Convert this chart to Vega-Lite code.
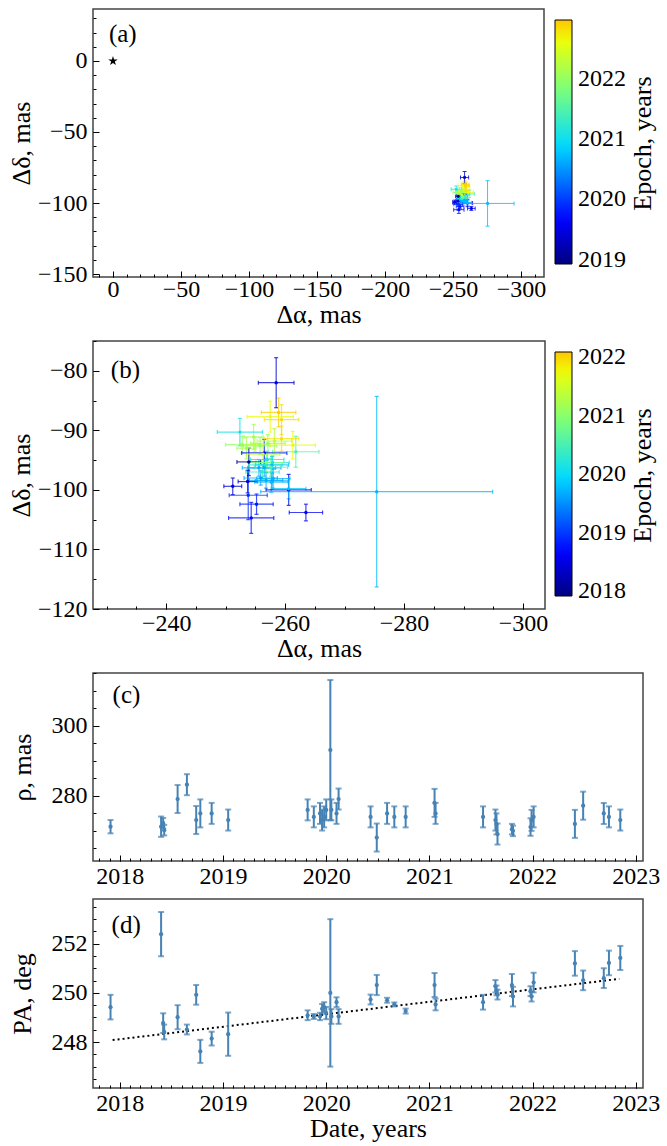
{
"$schema":"https://vega.github.io/schema/vega-lite/v6.json",
"padding":{"left":7,"top":8,"right":5,"bottom":5},
"background":"white",
"config":{
  "font":"Liberation Serif",
  "view":{"stroke":"#444","strokeWidth":1.5},
  "axis":{"domain":false,"grid":false,"labelFont":"Liberation Serif","titleFont":"Liberation Serif","labelFontSize":24,"titleFontSize":26,"titleFontWeight":"normal","labelColor":"#000","titleColor":"#000","tickColor":"#000","tickWidth":1,"labelFlush":false,"labelOverlap":false},
  "legend":{"labelFont":"Liberation Serif","titleFont":"Liberation Serif"}
},
"datasets":{"obs":[
{"t":2017.91,"rho":271.2,"rho_e":1.9,"pa":249.42,"pa_e":0.5,"da":-253.9,"da_e":2.0,"dd":-95.3,"dd_e":2.3},
{"t":2018.40,"rho":271.2,"rho_e":2.9,"pa":252.39,"pa_e":0.9,"da":-258.5,"da_e":3.0,"dd":-82.0,"dd_e":4.2},
{"t":2018.42,"rho":272.2,"rho_e":1.5,"pa":248.77,"pa_e":0.4,"da":-253.7,"da_e":1.6,"dd":-98.6,"dd_e":1.9},
{"t":2018.43,"rho":270.2,"rho_e":1.5,"pa":248.41,"pa_e":0.3,"da":-251.2,"da_e":1.5,"dd":-99.4,"dd_e":1.4},
{"t":2018.56,"rho":279.1,"rho_e":4.0,"pa":249.01,"pa_e":0.49,"da":-260.6,"da_e":3.8,"dd":-100.0,"dd_e":2.6},
{"t":2018.65,"rho":283.2,"rho_e":3.0,"pa":248.51,"pa_e":0.2,"da":-263.5,"da_e":2.8,"dd":-103.8,"dd_e":1.4},
{"t":2018.74,"rho":273.1,"rho_e":4.0,"pa":249.92,"pa_e":0.4,"da":-256.5,"da_e":3.8,"dd":-93.8,"dd_e":2.3},
{"t":2018.78,"rho":275.0,"rho_e":4.0,"pa":247.62,"pa_e":0.47,"da":-254.3,"da_e":3.8,"dd":-104.7,"dd_e":2.6},
{"t":2018.89,"rho":275.0,"rho_e":3.0,"pa":248.14,"pa_e":0.28,"da":-255.2,"da_e":2.8,"dd":-102.4,"dd_e":1.7},
{"t":2019.05,"rho":273.1,"rho_e":3.0,"pa":248.32,"pa_e":0.88,"da":-253.8,"da_e":3.2,"dd":-100.9,"dd_e":4.1},
{"t":2019.82,"rho":276.0,"rho_e":3.0,"pa":249.09,"pa_e":0.2,"da":-257.8,"da_e":2.8,"dd":-98.5,"dd_e":1.4},
{"t":2019.88,"rho":274.0,"rho_e":3.0,"pa":249.04,"pa_e":0.1,"da":-255.9,"da_e":2.8,"dd":-98.0,"dd_e":1.2},
{"t":2019.94,"rho":275.0,"rho_e":3.0,"pa":249.04,"pa_e":0.15,"da":-256.8,"da_e":2.8,"dd":-98.4,"dd_e":1.3},
{"t":2019.96,"rho":273.1,"rho_e":3.0,"pa":249.35,"pa_e":0.2,"da":-255.6,"da_e":2.8,"dd":-96.3,"dd_e":1.4},
{"t":2019.98,"rho":274.0,"rho_e":3.0,"pa":249.42,"pa_e":0.2,"da":-256.5,"da_e":2.8,"dd":-96.3,"dd_e":1.4},
{"t":2020.00,"rho":276.0,"rho_e":3.0,"pa":249.18,"pa_e":0.25,"da":-258.0,"da_e":2.8,"dd":-98.1,"dd_e":1.6},
{"t":2020.04,"rho":293.1,"rho_e":20.0,"pa":250.0,"pa_e":3.0,"da":-275.4,"da_e":19.5,"dd":-100.3,"dd_e":16.0},
{"t":2020.05,"rho":276.0,"rho_e":3.0,"pa":249.04,"pa_e":0.3,"da":-257.7,"da_e":2.8,"dd":-98.7,"dd_e":1.7},
{"t":2020.10,"rho":275.0,"rho_e":3.0,"pa":249.62,"pa_e":0.2,"da":-257.8,"da_e":2.8,"dd":-95.8,"dd_e":1.4},
{"t":2020.12,"rho":279.1,"rho_e":3.0,"pa":249.04,"pa_e":0.3,"da":-260.6,"da_e":2.9,"dd":-99.8,"dd_e":1.7},
{"t":2020.43,"rho":274.0,"rho_e":3.0,"pa":249.73,"pa_e":0.2,"da":-257.0,"da_e":2.8,"dd":-94.9,"dd_e":1.4},
{"t":2020.49,"rho":268.1,"rho_e":4.0,"pa":250.32,"pa_e":0.41,"da":-252.4,"da_e":3.8,"dd":-90.3,"dd_e":2.3},
{"t":2020.59,"rho":275.0,"rho_e":3.0,"pa":249.70,"pa_e":0.1,"da":-257.9,"da_e":2.8,"dd":-95.4,"dd_e":1.1},
{"t":2020.66,"rho":274.0,"rho_e":3.0,"pa":249.53,"pa_e":0.08,"da":-256.7,"da_e":2.8,"dd":-95.8,"dd_e":1.1},
{"t":2020.77,"rho":274.0,"rho_e":3.0,"pa":249.26,"pa_e":0.1,"da":-256.2,"da_e":2.8,"dd":-97.0,"dd_e":1.2},
{"t":2021.05,"rho":278.0,"rho_e":4.0,"pa":250.32,"pa_e":0.49,"da":-261.8,"da_e":3.9,"dd":-93.6,"dd_e":2.6},
{"t":2021.06,"rho":275.0,"rho_e":3.0,"pa":249.53,"pa_e":0.24,"da":-257.6,"da_e":2.8,"dd":-96.2,"dd_e":1.5},
{"t":2021.52,"rho":274.0,"rho_e":3.0,"pa":249.62,"pa_e":0.3,"da":-256.9,"da_e":2.9,"dd":-95.4,"dd_e":1.7},
{"t":2021.64,"rho":273.1,"rho_e":3.0,"pa":250.27,"pa_e":0.25,"da":-257.1,"da_e":2.9,"dd":-92.2,"dd_e":1.5},
{"t":2021.65,"rho":272.0,"rho_e":3.0,"pa":250.10,"pa_e":0.2,"da":-255.8,"da_e":2.8,"dd":-92.6,"dd_e":1.4},
{"t":2021.66,"rho":269.1,"rho_e":3.0,"pa":249.93,"pa_e":0.2,"da":-252.8,"da_e":2.8,"dd":-92.4,"dd_e":1.4},
{"t":2021.80,"rho":270.5,"rho_e":1.5,"pa":250.32,"pa_e":0.45,"da":-254.7,"da_e":1.6,"dd":-91.1,"dd_e":2.1},
{"t":2021.81,"rho":270.0,"rho_e":1.5,"pa":249.85,"pa_e":0.4,"da":-253.5,"da_e":1.6,"dd":-93.0,"dd_e":1.8},
{"t":2021.98,"rho":271.1,"rho_e":2.5,"pa":250.07,"pa_e":0.2,"da":-254.9,"da_e":2.4,"dd":-92.4,"dd_e":1.2},
{"t":2021.99,"rho":273.0,"rho_e":3.0,"pa":249.85,"pa_e":0.2,"da":-256.3,"da_e":2.8,"dd":-94.0,"dd_e":1.4},
{"t":2022.01,"rho":274.0,"rho_e":3.0,"pa":250.42,"pa_e":0.4,"da":-258.2,"da_e":2.9,"dd":-91.8,"dd_e":2.1},
{"t":2022.41,"rho":272.0,"rho_e":4.0,"pa":251.20,"pa_e":0.5,"da":-257.5,"da_e":3.9,"dd":-87.7,"dd_e":2.6},
{"t":2022.49,"rho":277.2,"rho_e":4.0,"pa":250.51,"pa_e":0.4,"da":-261.3,"da_e":3.8,"dd":-92.5,"dd_e":2.3},
{"t":2022.69,"rho":275.0,"rho_e":3.0,"pa":250.60,"pa_e":0.4,"da":-259.4,"da_e":2.9,"dd":-91.4,"dd_e":2.1},
{"t":2022.74,"rho":274.0,"rho_e":3.0,"pa":251.22,"pa_e":0.5,"da":-259.4,"da_e":2.9,"dd":-88.2,"dd_e":2.5},
{"t":2022.85,"rho":273.1,"rho_e":3.0,"pa":251.42,"pa_e":0.49,"da":-258.9,"da_e":2.9,"dd":-87.0,"dd_e":2.4}
]},
"spacing":9,
"vconcat":[
 {"vconcat":[
  {"width":451,"height":268,
   "resolve":{"axis":{"x":"independent","y":"independent"},"scale":{"color":"independent"},"legend":{"color":"independent"}},
   "layer":[
    {"data":{"name":"obs"},"mark":{"type":"errorbar","thickness":1,"size":4,"ticks":true,"opacity":0.8},
     "encoding":{
      "x":{"field":"da","type":"quantitative","scale":{"domain":[14.7,-316.9],"nice":false,"zero":false},"axis":null},
      "y":{"field":"dd","type":"quantitative","scale":{"domain":[-152.1,36.6],"nice":false,"zero":false},"axis":null},
      "yError":{"field":"dd_e"},
      "color":{"field":"t","type":"quantitative","scale":{"type":"linear","domain":[2017.8,2018.713,2020.279,2021.441,2022.461,2022.9],"range":["#000080","#0000ff","#00dbff","#7bff7b","#eeff08","#ffc600"],"interpolate":"rgb","clamp":true},"legend":null}}},
    {"data":{"name":"obs"},"mark":{"type":"errorbar","thickness":1,"size":4,"ticks":true,"opacity":0.8},
     "encoding":{
      "x":{"field":"da","type":"quantitative","scale":{"domain":[14.7,-316.9],"nice":false,"zero":false},"axis":null},
      "xError":{"field":"da_e"},
      "y":{"field":"dd","type":"quantitative","scale":{"domain":[-152.1,36.6],"nice":false,"zero":false},"axis":null},
      "color":{"field":"t","type":"quantitative","scale":{"type":"linear","domain":[2017.8,2018.713,2020.279,2021.441,2022.461,2022.9],"range":["#000080","#0000ff","#00dbff","#7bff7b","#eeff08","#ffc600"],"interpolate":"rgb","clamp":true},"legend":null}}},
    {"data":{"name":"obs"},"mark":{"type":"point","filled":true,"size":10,"opacity":1},
     "encoding":{
      "x":{"field":"da","type":"quantitative","scale":{"domain":[14.7,-316.9],"nice":false,"zero":false},
       "axis":{"orient":"bottom","values":[0,-50,-100,-150,-200,-250,-300],"format":"d","title":"Δα, mas","tickSize":-6,"labelPadding":6,"titlePadding":0}},
      "y":{"field":"dd","type":"quantitative","scale":{"domain":[-152.1,36.6],"nice":false,"zero":false},
       "axis":{"orient":"left","values":[0,-50,-100,-150],"format":"d","title":"Δδ, mas","tickSize":-6,"labelPadding":12,"titlePadding":3}},
      "color":{"field":"t","type":"quantitative","scale":{"type":"linear","domain":[2017.8,2018.713,2020.279,2021.441,2022.461,2022.9],"range":["#000080","#0000ff","#00dbff","#7bff7b","#eeff08","#ffc600"],"interpolate":"rgb","clamp":true},"legend":null}}},
    {"data":{"name":"obs"},"mark":{"type":"point","filled":true,"size":0,"opacity":1},
     "encoding":{
      "x":{"field":"da","type":"quantitative","scale":{"domain":[14.7,-316.9],"nice":false,"zero":false},"axis":null},
      "y":{"field":"dd","type":"quantitative","scale":{"domain":[-152.1,36.6],"nice":false,"zero":false},"axis":null},
      "color":{"field":"t","type":"quantitative","scale":{"type":"linear","domain":[2018.93,2019.653,2020.893,2021.815,2022.623,2022.97],"range":["#000080","#0000ff","#00dbff","#7bff7b","#eeff08","#ffc600"],"interpolate":"rgb","clamp":true},
       "legend":{"type":"gradient","orient":"none","legendX":462,"legendY":11,"padding":0,"direction":"vertical","gradientLength":244,"gradientThickness":17,"gradientStrokeColor":"#000","gradientStrokeWidth":1,"labelFontSize":24,"labelOffset":6,"labelColor":"#000","labelOverlap":false,"values":[2019,2020,2021,2022],"format":"d","title":null}}}},
    {"data":{"values":[{"da":0,"dd":0}]},"mark":{"type":"point","filled":true,"color":"#000","opacity":1,"size":100,"shape":"M0,-1L0.2245,-0.309L0.951,-0.309L0.363,0.118L0.588,0.809L0,0.382L-0.588,0.809L-0.363,0.118L-0.951,-0.309L-0.2245,-0.309Z"},
     "encoding":{
      "x":{"field":"da","type":"quantitative","scale":{"domain":[14.7,-316.9],"nice":false,"zero":false},"axis":null},
      "y":{"field":"dd","type":"quantitative","scale":{"domain":[-152.1,36.6],"nice":false,"zero":false},"axis":null}}},
    {"data":{"values":[{"da":3,"dd":19,"label":"(a)"}]},"mark":{"type":"text","font":"Liberation Serif","fontSize":25,"align":"left","baseline":"middle","color":"#000"},
     "encoding":{
      "x":{"field":"da","type":"quantitative","scale":{"domain":[14.7,-316.9],"nice":false,"zero":false},"axis":null},
      "y":{"field":"dd","type":"quantitative","scale":{"domain":[-152.1,36.6],"nice":false,"zero":false},"axis":null},
      "text":{"field":"label"}}},
    {"data":{"name":"obs"},"mark":{"type":"point","opacity":0},
     "encoding":{
      "x":{"field":"da","type":"quantitative","scale":{"domain":[14.7,-316.9],"nice":false,"zero":false},
       "axis":{"orient":"bottom","values":[10,0,-10,-20,-30,-40,-50,-60,-70,-80,-90,-100,-110,-120,-130,-140,-150,-160,-170,-180,-190,-200,-210,-220,-230,-240,-250,-260,-270,-280,-290,-300,-310],"labels":false,"tickSize":-3,"title":null}},
      "y":{"field":"dd","type":"quantitative","scale":{"domain":[-152.1,36.6],"nice":false,"zero":false},
       "axis":{"orient":"left","values":[30,20,10,0,-10,-20,-30,-40,-50,-60,-70,-80,-90,-100,-110,-120,-130,-140,-150],"labels":false,"tickSize":-3,"title":null}}}},
    {"data":{"name":"obs"},"mark":{"type":"point","opacity":0},
     "encoding":{
      "x":{"field":"da","type":"quantitative","scale":{"domain":[14.7,-316.9],"nice":false,"zero":false},"axis":null},
      "y":{"field":"dd","type":"quantitative","scale":{"domain":[-152.1,36.6],"nice":false,"zero":false},
       "axis":{"orient":"right","ticks":false,"labels":false,"domain":false,"grid":false,"title":"Epoch, years","titleAngle":270,"titleBaseline":"top","titlePadding":85}}}}
   ]},
  {"width":452,"height":268,
   "resolve":{"axis":{"x":"independent","y":"independent"},"scale":{"color":"independent"},"legend":{"color":"independent"}},
   "layer":[
    {"data":{"name":"obs"},"mark":{"type":"errorbar","thickness":1.2,"size":4,"ticks":true,"opacity":0.75},
     "encoding":{
      "x":{"field":"da","type":"quantitative","scale":{"domain":[-227.7,-303.7],"nice":false,"zero":false},"axis":null},
      "y":{"field":"dd","type":"quantitative","scale":{"domain":[-120,-75],"nice":false,"zero":false},"axis":null},
      "yError":{"field":"dd_e"},
      "color":{"field":"t","type":"quantitative","scale":{"type":"linear","domain":[2017.8,2018.713,2020.279,2021.441,2022.461,2022.9],"range":["#000080","#0000ff","#00dbff","#7bff7b","#eeff08","#ffc600"],"interpolate":"rgb","clamp":true},"legend":null}}},
    {"data":{"name":"obs"},"mark":{"type":"errorbar","thickness":1.2,"size":4,"ticks":true,"opacity":0.75},
     "encoding":{
      "x":{"field":"da","type":"quantitative","scale":{"domain":[-227.7,-303.7],"nice":false,"zero":false},"axis":null},
      "xError":{"field":"da_e"},
      "y":{"field":"dd","type":"quantitative","scale":{"domain":[-120,-75],"nice":false,"zero":false},"axis":null},
      "color":{"field":"t","type":"quantitative","scale":{"type":"linear","domain":[2017.8,2018.713,2020.279,2021.441,2022.461,2022.9],"range":["#000080","#0000ff","#00dbff","#7bff7b","#eeff08","#ffc600"],"interpolate":"rgb","clamp":true},"legend":null}}},
    {"data":{"name":"obs"},"mark":{"type":"point","filled":true,"size":12,"opacity":1},
     "encoding":{
      "x":{"field":"da","type":"quantitative","scale":{"domain":[-227.7,-303.7],"nice":false,"zero":false},
       "axis":{"orient":"bottom","values":[-240,-260,-280,-300],"format":"d","title":"Δα, mas","tickSize":-6,"labelPadding":8,"titlePadding":0}},
      "y":{"field":"dd","type":"quantitative","scale":{"domain":[-120,-75],"nice":false,"zero":false},
       "axis":{"orient":"left","values":[-80,-90,-100,-110,-120],"format":"d","title":"Δδ, mas","tickSize":-6,"labelPadding":12,"titlePadding":3}},
      "color":{"field":"t","type":"quantitative","scale":{"type":"linear","domain":[2017.8,2018.713,2020.279,2021.441,2022.461,2022.9],"range":["#000080","#0000ff","#00dbff","#7bff7b","#eeff08","#ffc600"],"interpolate":"rgb","clamp":true},"legend":null}}},
    {"data":{"name":"obs"},"mark":{"type":"point","filled":true,"size":0,"opacity":1},
     "encoding":{
      "x":{"field":"da","type":"quantitative","scale":{"domain":[-227.7,-303.7],"nice":false,"zero":false},"axis":null},
      "y":{"field":"dd","type":"quantitative","scale":{"domain":[-120,-75],"nice":false,"zero":false},"axis":null},
      "color":{"field":"t","type":"quantitative","scale":{"type":"linear","domain":[2017.92,2018.666,2019.947,2020.897,2021.731,2022.09],"range":["#000080","#0000ff","#00dbff","#7bff7b","#eeff08","#ffc600"],"interpolate":"rgb","clamp":true},
       "legend":{"type":"gradient","orient":"none","legendX":462,"legendY":11,"padding":0,"direction":"vertical","gradientLength":244,"gradientThickness":17,"gradientStrokeColor":"#000","gradientStrokeWidth":1,"labelFontSize":24,"labelOffset":6,"labelColor":"#000","labelOverlap":false,"values":[2018,2019,2020,2021,2022],"format":"d","title":null}}}},
    {"data":{"values":[{"da":-230.7,"dd":-79.8,"label":"(b)"}]},"mark":{"type":"text","font":"Liberation Serif","fontSize":25,"align":"left","baseline":"middle","color":"#000"},
     "encoding":{
      "x":{"field":"da","type":"quantitative","scale":{"domain":[-227.7,-303.7],"nice":false,"zero":false},"axis":null},
      "y":{"field":"dd","type":"quantitative","scale":{"domain":[-120,-75],"nice":false,"zero":false},"axis":null},
      "text":{"field":"label"}}},
    {"data":{"name":"obs"},"mark":{"type":"point","opacity":0},
     "encoding":{
      "x":{"field":"da","type":"quantitative","scale":{"domain":[-227.7,-303.7],"nice":false,"zero":false},
       "axis":{"orient":"bottom","values":[-230,-235,-240,-245,-250,-255,-260,-265,-270,-275,-280,-285,-290,-295,-300],"labels":false,"tickSize":-3,"title":null}},
      "y":{"field":"dd","type":"quantitative","scale":{"domain":[-120,-75],"nice":false,"zero":false},
       "axis":{"orient":"left","values":[-75,-80,-85,-90,-95,-100,-105,-110,-115,-120],"labels":false,"tickSize":-3,"title":null}}}},
    {"data":{"name":"obs"},"mark":{"type":"point","opacity":0},
     "encoding":{
      "x":{"field":"da","type":"quantitative","scale":{"domain":[-227.7,-303.7],"nice":false,"zero":false},"axis":null},
      "y":{"field":"dd","type":"quantitative","scale":{"domain":[-120,-75],"nice":false,"zero":false},
       "axis":{"orient":"right","ticks":false,"labels":false,"domain":false,"grid":false,"title":"Epoch, years","titleAngle":270,"titleBaseline":"top","titlePadding":84}}}}
   ]}
  ],"spacing":64,"bounds":"flush","resolve":{"scale":{"color":"independent"},"legend":{"color":"independent"}}},
 {"vconcat":[
  {"width":550,"height":188,
   "resolve":{"axis":{"x":"independent","y":"independent"}},
   "layer":[
    {"data":{"name":"obs"},"mark":{"type":"errorbar","thickness":2,"size":6,"ticks":true,"color":"#4682b4"},
     "encoding":{
      "x":{"field":"t","type":"quantitative","scale":{"domain":[2017.74,2023.07],"nice":false,"zero":false},"axis":null},
      "y":{"field":"rho","type":"quantitative","scale":{"domain":[261.4,315.1],"nice":false,"zero":false},"axis":null},
      "yError":{"field":"rho_e"}}},
    {"data":{"name":"obs"},"mark":{"type":"point","filled":true,"size":18,"opacity":1,"color":"#4682b4"},
     "encoding":{
      "x":{"field":"t","type":"quantitative","scale":{"domain":[2017.74,2023.07],"nice":false,"zero":false},
       "axis":{"orient":"bottom","values":[2018,2019,2020,2021,2022,2023],"format":"d","title":null,"tickSize":-6,"labelPadding":9}},
      "y":{"field":"rho","type":"quantitative","scale":{"domain":[261.4,315.1],"nice":false,"zero":false},
       "axis":{"orient":"left","values":[280,300],"format":"d","title":"ρ, mas","tickSize":-6,"labelPadding":12,"titlePadding":16}}}},
    {"data":{"values":[{"t":2017.93,"rho":308.9,"label":"(c)"}]},"mark":{"type":"text","font":"Liberation Serif","fontSize":25,"align":"left","baseline":"middle","color":"#000"},
     "encoding":{
      "x":{"field":"t","type":"quantitative","scale":{"domain":[2017.74,2023.07],"nice":false,"zero":false},"axis":null},
      "y":{"field":"rho","type":"quantitative","scale":{"domain":[261.4,315.1],"nice":false,"zero":false},"axis":null},
      "text":{"field":"label"}}},
    {"data":{"name":"obs"},"mark":{"type":"point","opacity":0},
     "encoding":{
      "x":{"field":"t","type":"quantitative","scale":{"domain":[2017.74,2023.07],"nice":false,"zero":false},
       "axis":{"orient":"bottom","values":[2017.8,2017.9,2018,2018.1,2018.2,2018.3,2018.4,2018.5,2018.6,2018.7,2018.8,2018.9,2019,2019.1,2019.2,2019.3,2019.4,2019.5,2019.6,2019.7,2019.8,2019.9,2020,2020.1,2020.2,2020.3,2020.4,2020.5,2020.6,2020.7,2020.8,2020.9,2021,2021.1,2021.2,2021.3,2021.4,2021.5,2021.6,2021.7,2021.8,2021.9,2022,2022.1,2022.2,2022.3,2022.4,2022.5,2022.6,2022.7,2022.8,2022.9,2023],"labels":false,"tickSize":-3,"title":null}},
      "y":{"field":"rho","type":"quantitative","scale":{"domain":[261.4,315.1],"nice":false,"zero":false},
       "axis":{"orient":"left","values":[265,270,275,280,285,290,295,300,305,310,315],"labels":false,"tickSize":-3,"title":null}}}}
   ]},
  {"width":550,"height":189,
   "resolve":{"axis":{"x":"independent","y":"independent"}},
   "layer":[
    {"data":{"values":[{"t":2017.93,"pa":248.08},{"t":2022.84,"pa":250.57}]},"mark":{"type":"line","color":"#000","strokeWidth":2,"strokeDash":[2,3]},
     "encoding":{
      "x":{"field":"t","type":"quantitative","scale":{"domain":[2017.74,2023.07],"nice":false,"zero":false},"axis":null},
      "y":{"field":"pa","type":"quantitative","scale":{"domain":[246.13,253.82],"nice":false,"zero":false},"axis":null}}},
    {"data":{"name":"obs"},"mark":{"type":"errorbar","thickness":2,"size":6,"ticks":true,"color":"#4682b4"},
     "encoding":{
      "x":{"field":"t","type":"quantitative","scale":{"domain":[2017.74,2023.07],"nice":false,"zero":false},"axis":null},
      "y":{"field":"pa","type":"quantitative","scale":{"domain":[246.13,253.82],"nice":false,"zero":false},"axis":null},
      "yError":{"field":"pa_e"}}},
    {"data":{"name":"obs"},"mark":{"type":"point","filled":true,"size":18,"opacity":1,"color":"#4682b4"},
     "encoding":{
      "x":{"field":"t","type":"quantitative","scale":{"domain":[2017.74,2023.07],"nice":false,"zero":false},
       "axis":{"orient":"bottom","values":[2018,2019,2020,2021,2022,2023],"format":"d","title":"Date, years","tickSize":-6,"labelPadding":9,"titlePadding":0}},
      "y":{"field":"pa","type":"quantitative","scale":{"domain":[246.13,253.82],"nice":false,"zero":false},
       "axis":{"orient":"left","values":[248,250,252],"format":"d","title":"PA, deg","tickSize":-6,"labelPadding":12,"titlePadding":16}}}},
    {"data":{"values":[{"t":2017.92,"pa":252.76,"label":"(d)"}]},"mark":{"type":"text","font":"Liberation Serif","fontSize":25,"align":"left","baseline":"middle","color":"#000"},
     "encoding":{
      "x":{"field":"t","type":"quantitative","scale":{"domain":[2017.74,2023.07],"nice":false,"zero":false},"axis":null},
      "y":{"field":"pa","type":"quantitative","scale":{"domain":[246.13,253.82],"nice":false,"zero":false},"axis":null},
      "text":{"field":"label"}}},
    {"data":{"name":"obs"},"mark":{"type":"point","opacity":0},
     "encoding":{
      "x":{"field":"t","type":"quantitative","scale":{"domain":[2017.74,2023.07],"nice":false,"zero":false},
       "axis":{"orient":"bottom","values":[2017.8,2017.9,2018,2018.1,2018.2,2018.3,2018.4,2018.5,2018.6,2018.7,2018.8,2018.9,2019,2019.1,2019.2,2019.3,2019.4,2019.5,2019.6,2019.7,2019.8,2019.9,2020,2020.1,2020.2,2020.3,2020.4,2020.5,2020.6,2020.7,2020.8,2020.9,2021,2021.1,2021.2,2021.3,2021.4,2021.5,2021.6,2021.7,2021.8,2021.9,2022,2022.1,2022.2,2022.3,2022.4,2022.5,2022.6,2022.7,2022.8,2022.9,2023],"labels":false,"tickSize":-3,"title":null}},
      "y":{"field":"pa","type":"quantitative","scale":{"domain":[246.13,253.82],"nice":false,"zero":false},
       "axis":{"orient":"left","values":[246.5,247,247.5,248,248.5,249,249.5,250,250.5,251,251.5,252,252.5,253,253.5],"labels":false,"tickSize":-3,"title":null}}}}
   ]}
  ],"spacing":38,"bounds":"flush"}
]
}
